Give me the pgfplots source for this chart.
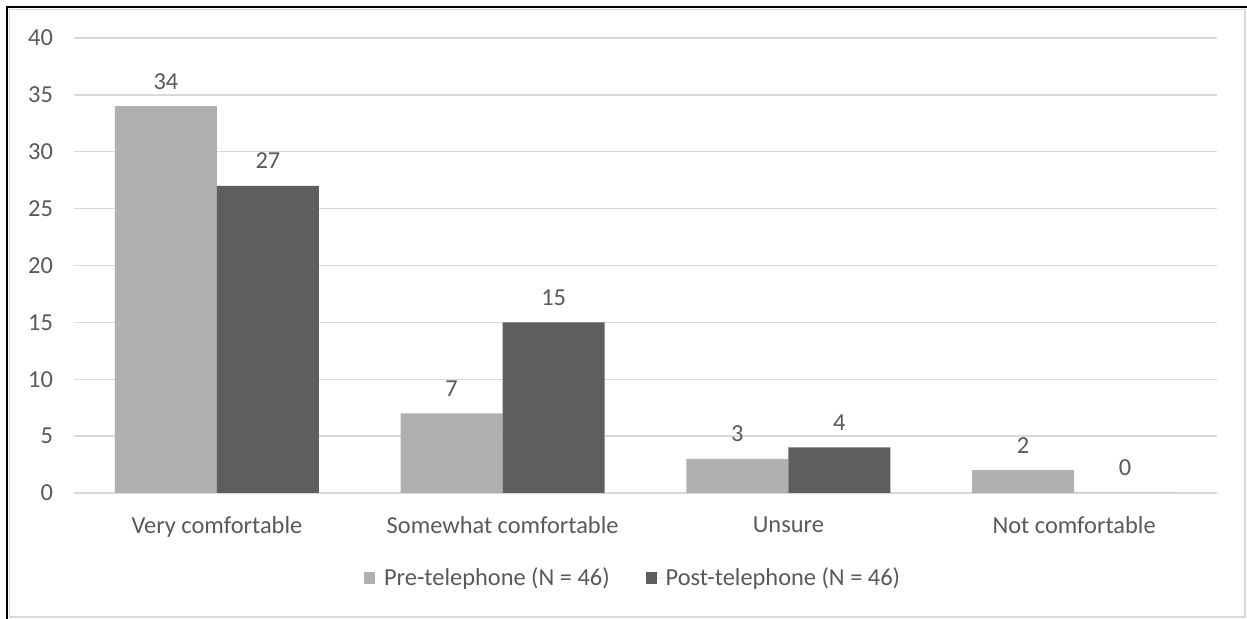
\documentclass[border=0pt]{standalone}
\usepackage{pgfplots}
\pgfplotsset{compat=1.18}
\usepackage{fontspec}
\setmainfont{Carlito}
\definecolor{txt}{HTML}{595959}
\definecolor{pre}{HTML}{B0B0B0}
\definecolor{post}{HTML}{5E5E5E}
\definecolor{gridc}{HTML}{D9D9D9}
\newcommand{\cf}{\fontsize{12.2}{14}\selectfont}
\begin{document}
\begin{tikzpicture}
\fill[white] (0,0) rectangle (623.5pt,309.5pt);
\draw[gridc, line width=0.8pt] (4.8pt,1pt) rectangle (622.5pt,304.8pt);
\draw[black, line width=0.7pt] (3.4pt,0pt) -- (3.4pt,306pt) -- (623.5pt,306pt);
\begin{axis}[
  at={(37pt,63pt)}, anchor=south west,
  scale only axis, width=571.5pt, height=227.5pt,
  ybar=0pt, bar width=51pt,
  xmin=-0.5, xmax=3.5, ymin=0, ymax=40,
  xtick={0,1,2,3},
  xticklabels={Very comfortable, Somewhat comfortable, Unsure, Not comfortable},
  ytick={0,5,...,40},
  axis line style={draw=none},
  tick style={draw=none},
  ymajorgrids, grid style={gridc, line width=0.7pt},
  font=\cf,
  every tick label/.append style={text=txt, font=\cf},
  yticklabel style={xshift=-7pt},
  xticklabel style={yshift=-4pt},
  /pgf/number format/assume math mode=true,
  nodes near coords,
  nodes near coords style={text=txt, font=\cf, anchor=south, yshift=5pt},
  legend style={at={(0.49,-0.187)}, anchor=center, draw=none, legend columns=2,
    font=\cf, text=txt,
    /tikz/every even column/.append style={column sep=16pt}},
  legend image code/.code={\path (0pt,0pt) -- (8pt,0pt); \fill[#1] (0pt,-2.8pt) rectangle (5.6pt,2.8pt);},
]
\addplot[fill=pre, draw=none] coordinates {(0,34) (1,7) (2,3) (3,2)};
\addplot[fill=post, draw=none] coordinates {(0,27) (1,15) (2,4) (3,0)};
\legend{Pre-telephone (N = 46), Post-telephone (N = 46)}
\end{axis}
\pgfresetboundingbox
\path[use as bounding box] (0,0) rectangle (623.5pt,309.5pt);
\end{tikzpicture}
\end{document}
